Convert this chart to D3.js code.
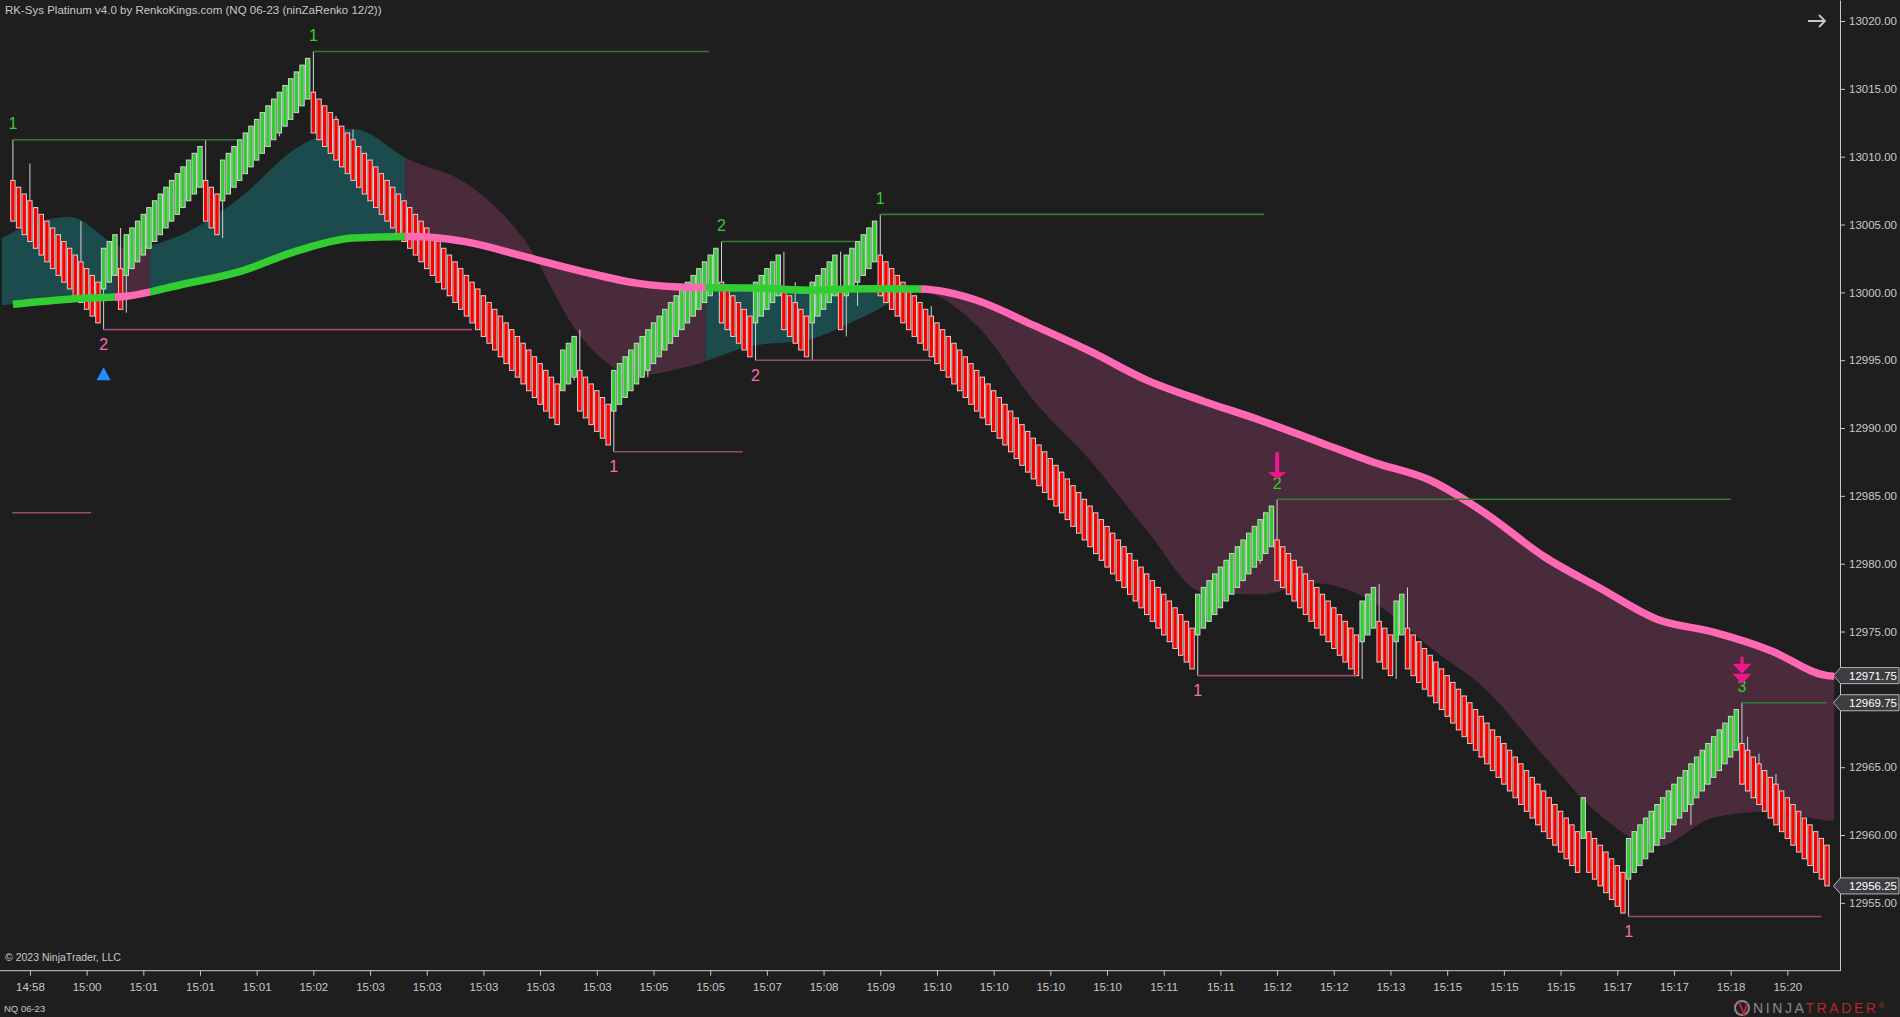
<!DOCTYPE html>
<html><head><meta charset="utf-8">
<script src="https://cdn.jsdelivr.net/npm/d3@7"></script>
<style>
html,body{margin:0;padding:0;background:#1e1e1e;overflow:hidden;}
svg{display:block;}
text{font-family:"Liberation Sans",Arial,sans-serif;}
</style></head><body>
<svg id="c" width="1900" height="1017"></svg>
<script>
// ---------------- DATA ----------------
const titleText = "RK-Sys Platinum v4.0 by RenkoKings.com (NQ 06-23 (ninZaRenko 12/2))";
const brickSize = 3; // ninZaRenko body height in points

// Renko bar closes, bar index 0..320
const closes = [
13005.25,13004.75,13004.25,13003.75,13003.25,13002.75,13002.25,13001.75,13001.25,13000.75,13000.25,12999.75,12999.25,12998.75,12998.25,12997.75,
13003.25,13003.75,13004.25,12998.75,
13004.25,13004.75,13005.25,13005.75,13006.25,13006.75,13007.25,13007.75,13008.25,13008.75,13009.25,13009.75,13010.25,13010.75,
13005.25,13004.75,13004.25,
13009.75,13010.25,13010.75,13011.25,13011.75,13012.25,13012.75,13013.25,13013.75,13014.25,13014.75,13015.25,13015.75,13016.25,13016.75,13017.25,
13011.75,13011.25,13010.75,13010.25,13009.75,13009.25,13008.75,13008.25,13007.75,13007.25,13006.75,13006.25,13005.75,13005.25,13004.75,13004.25,13003.75,13003.25,13002.75,13002.25,13001.75,13001.25,13000.75,13000.25,12999.75,12999.25,12998.75,12998.25,12997.75,12997.25,12996.75,12996.25,12995.75,12995.25,12994.75,12994.25,12993.75,12993.25,12992.75,12992.25,12991.75,12991.25,12990.75,12990.25,
12995.75,12996.25,12996.75,
12991.25,12990.75,12990.25,12989.75,12989.25,12988.75,
12994.25,12994.75,12995.25,12995.75,12996.25,12996.75,12997.25,12997.75,12998.25,12998.75,12999.25,12999.75,13000.25,13000.75,13001.25,13001.75,13002.25,13002.75,13003.25,
12997.75,12997.25,12996.75,12996.25,12995.75,12995.25,
13000.75,13001.25,13001.75,13002.25,13002.75,
12997.25,12996.75,12996.25,12995.75,12995.25,
13000.75,13001.25,13001.75,13002.25,13002.75,
12997.25,
13002.75,13003.25,13003.75,13004.25,13004.75,13005.25,
12999.75,12999.25,12998.75,12998.25,12997.75,12997.25,12996.75,12996.25,12995.75,12995.25,12994.75,12994.25,12993.75,12993.25,12992.75,12992.25,12991.75,12991.25,12990.75,12990.25,12989.75,12989.25,12988.75,12988.25,12987.75,12987.25,12986.75,12986.25,12985.75,12985.25,12984.75,12984.25,12983.75,12983.25,12982.75,12982.25,12981.75,12981.25,12980.75,12980.25,12979.75,12979.25,12978.75,12978.25,12977.75,12977.25,12976.75,12976.25,12975.75,12975.25,12974.75,12974.25,12973.75,12973.25,12972.75,12972.25,
12977.75,12978.25,12978.75,12979.25,12979.75,12980.25,12980.75,12981.25,12981.75,12982.25,12982.75,12983.25,12983.75,12984.25,
12978.75,12978.25,12977.75,12977.25,12976.75,12976.25,12975.75,12975.25,12974.75,12974.25,12973.75,12973.25,12972.75,12972.25,12971.75,
12977.25,12977.75,12978.25,
12972.75,12972.25,12971.75,
12977.25,12977.75,
12972.25,12971.75,12971.25,12970.75,12970.25,12969.75,12969.25,12968.75,12968.25,12967.75,12967.25,12966.75,12966.25,12965.75,12965.25,12964.75,12964.25,12963.75,12963.25,12962.75,12962.25,12961.75,12961.25,12960.75,12960.25,12959.75,12959.25,12958.75,12958.25,12957.75,12957.25,
12962.75,
12957.25,12956.75,12956.25,12955.75,12955.25,12954.75,12954.25,
12959.75,12960.25,12960.75,12961.25,12961.75,12962.25,12962.75,12963.25,12963.75,12964.25,12964.75,12965.25,12965.75,12966.25,12966.75,12967.25,12967.75,12968.25,12968.75,12969.25,
12963.75,12963.25,12962.75,12962.25,12961.75,12961.25,12960.75,12960.25,12959.75,12959.25,12958.75,12958.25,12957.75,12957.25,12956.75,12956.25
];

// wicks beyond the body
const highWickIdx = [0,3,12,19,34,53,57,60,100,125,136,138,146,153,162,223,241,246,305,306,308,311];
const highWickVal = [13011.25,13009.5,13005.25,13004.75,13011.25,13017.75,13013.0,13012.0,12997.25,13003.75,13003.0,13000.75,13003.0,13005.75,12999.0,12984.75,12978.5,12978.25,12969.75,12967.25,12966.0,12964.5];
const lowWickIdx = [16,20,37,47,99,106,112,131,141,147,149,209,220,238,244,285,296];
const lowWickVal = [12997.25,12998.5,13004.0,13011.5,12993.5,12988.25,12993.75,12995.0,12995.0,12996.75,12999.0,12971.75,12980.0,12971.5,12971.5,12954.0,12960.75];

// trend MA (thick line) and fast band edge, read at these bar positions
const sampleIdx = [-2,0,10,20,30,40,50,60,70,80,90,100,110,120,130,140,150,160,170,180,190,200,210,220,230,240,250,260,270,280,290,300,310,320,321.3];
const emaVals = [12999.05,12999.13,12999.50,12999.72,13000.60,13001.53,13003.04,13004.00,13004.11,13003.72,13002.67,13001.59,13000.68,13000.36,13000.33,13000.16,13000.26,13000.24,12999.42,12997.58,12995.66,12993.53,12991.98,12990.58,12989.03,12987.48,12986.15,12983.64,12980.55,12978.19,12975.91,12974.95,12973.61,12971.75,12971.70];
const fastVals = [13004.00,13004.44,13005.55,13003.26,13004.29,13006.95,13010.63,13012.04,13009.75,13008.03,13004.00,12996.84,12993.89,12994.63,12996.03,12996.48,12998.19,13000.01,12997.58,12992.05,12987.63,12982.46,12977.89,12977.74,12978.55,12977.15,12973.83,12970.66,12965.87,12961.45,12959.16,12961.30,12961.74,12961.08,12961.05];

// trend state segments (bar index ranges)
const trendSegStart = [-2, 18, 24.2, 69.2, 122.2, 160.2];
const trendSegEnd   = [18, 24.2, 69.2, 122.2, 160.2, 321.3];
const trendSegBull  = [true, false, true, false, true, false];

// swing high / low lines with counts
const pivotHiStart = [0, 53, 125, 153, 223, 305];
const pivotHiEnd   = [39.5, 122.8, 148.6, 220.7, 303, 320];
const pivotHiPrice = [13011.25, 13017.75, 13003.75, 13005.75, 12984.75, 12969.75];
const pivotHiLabel = ['1','1','2','1','2','3'];
const pivotLoStart = [16, 106, 131, 209, 285];
const pivotLoEnd   = [81, 128.7, 162, 237, 319];
const pivotLoPrice = [12997.25, 12988.25, 12995.0, 12971.75, 12954.0];
const pivotLoLabel = ['2','1','2','1','1'];

// extra short line at left
const sideLinePrice = 12983.75, sideLineStart = -0.1, sideLineEnd = 13.8;

// signals
const sellSignalIdx = [223, 305];
const sellSignalPrice = [12984.75, 12969.75];
const sellSignalArrows = [1, 2];
const buySignalIdx = [16];
const buySignalPrice = [12997.25];

// axes
const tickIdx = [3,13,23,33,43,53,63,73,83,93,103,113,123,133,143,153,163,173,183,193,203,213,223,233,243,253,263,273,283,293,303,313];
const tickLabels = ["14:58","15:00","15:01","15:01","15:01","15:02","15:03","15:03","15:03","15:03","15:03","15:05","15:05","15:07","15:08","15:09","15:10","15:10","15:10","15:10","15:11","15:11","15:12","15:12","15:13","15:15","15:15","15:15","15:17","15:17","15:18","15:20"];
const yTicks = [12955,12960,12965,12970,12975,12980,12985,12990,12995,13000,13005,13010,13015,13020];
const priceTags = [12971.75, 12969.75, 12956.25];

// ---------------- DRAW ----------------
const W = 1900, H = 1017;
const plotRight = 1840, plotBottom = 970.7;
const svg = d3.select('#c');
const x = d3.scaleLinear().domain([0, 320]).range([12.9, 1827.0]);
const y = d3.scaleLinear().domain([12950, 13021.55]).range([plotBottom, 0]);

const C = {
  bg:'#1e1e1e', teal:'#1b4b4d', maroon:'#4a2b3b', up:'#32cd32', dn:'#ff0000',
  outline:'#d2d2d2', emaUp:'#32cd32', emaDn:'#ff69b4', hiLine:'#2f7d2f', loLine:'#9a4a74',
  hiText:'#32cd32', loText:'#ff69b4', axis:'#c8c8c8', signal:'#f0168c', buy:'#1e90ff'
};

svg.append('rect').attr('width',W).attr('height',H).attr('fill',C.bg);
const defs = svg.append('defs');
defs.append('clipPath').attr('id','plot').append('rect')
  .attr('x',0).attr('y',0).attr('width',plotRight).attr('height',plotBottom);
trendSegStart.forEach((s,k)=>{
  defs.append('clipPath').attr('id','seg'+k).append('rect')
    .attr('x', x(s)).attr('y',0).attr('width', x(trendSegEnd[k]) - x(s)).attr('height', plotBottom);
});

const samples = sampleIdx.map((d,i)=>({i:d, ema:emaVals[i], fast:fastVals[i]}));
const g = svg.append('g').attr('clip-path','url(#plot)');

// cloud
const area = d3.area().x(d=>x(d.i)).y0(d=>y(d.ema)).y1(d=>y(d.fast)).curve(d3.curveMonotoneX);
trendSegStart.forEach((s,k)=>{
  g.append('g').attr('clip-path',`url(#seg${k})`)
    .append('path').datum(samples).attr('d', area)
    .attr('fill', trendSegBull[k] ? C.teal : C.maroon);
});

// bars
const bars = closes.map((c,i)=>{
  const up = i > 0 ? c > closes[i-1] : closes[1] > c;
  return {i, c, up, top: up ? c : c + brickSize, bot: up ? c - brickSize : c};
});
const gw = g.append('g');
highWickIdx.forEach((bi,k)=>{
  const b = bars[bi];
  gw.append('line').attr('x1',x(bi)).attr('x2',x(bi)).attr('y1',y(b.top)).attr('y2',y(highWickVal[k]))
    .attr('stroke',C.outline).attr('stroke-width',1);
});
lowWickIdx.forEach((bi,k)=>{
  const b = bars[bi];
  gw.append('line').attr('x1',x(bi)).attr('x2',x(bi)).attr('y1',y(b.bot)).attr('y2',y(lowWickVal[k]))
    .attr('stroke',C.outline).attr('stroke-width',1);
});
g.append('g').selectAll('rect').data(bars).join('rect')
  .attr('x', d=>x(d.i)-2.2).attr('width',4.4)
  .attr('y', d=>y(d.top)).attr('height', d=>y(d.bot)-y(d.top))
  .attr('fill', d=>d.up ? C.up : C.dn)
  .attr('stroke', C.outline).attr('stroke-width',1);

// trend MA line
const emaLine = d3.line().x(d=>x(d.i)).y(d=>y(d.ema)).curve(d3.curveMonotoneX);
const emaSamples = samples.filter(d=>d.i >= 0);
trendSegStart.forEach((s,k)=>{
  g.append('g').attr('clip-path',`url(#seg${k})`)
    .append('path').datum(emaSamples).attr('d', emaLine)
    .attr('fill','none').attr('stroke', trendSegBull[k] ? C.emaUp : C.emaDn).attr('stroke-width',7.5);
});

// swing lines
pivotHiStart.forEach((s,k)=>{
  g.append('line').attr('x1',x(s)).attr('x2',x(pivotHiEnd[k]))
    .attr('y1',y(pivotHiPrice[k])).attr('y2',y(pivotHiPrice[k]))
    .attr('stroke',C.hiLine).attr('stroke-width',1.6);
  svg.append('text').attr('x',x(s)).attr('y',y(pivotHiPrice[k])-16).attr('dy','0.35em')
    .attr('text-anchor','middle').attr('font-size',16).attr('fill',C.hiText).text(pivotHiLabel[k]);
});
pivotLoStart.forEach((s,k)=>{
  g.append('line').attr('x1',x(s)).attr('x2',x(pivotLoEnd[k]))
    .attr('y1',y(pivotLoPrice[k])).attr('y2',y(pivotLoPrice[k]))
    .attr('stroke',C.loLine).attr('stroke-width',1.6);
  svg.append('text').attr('x',x(s)).attr('y',y(pivotLoPrice[k])+15).attr('dy','0.35em')
    .attr('text-anchor','middle').attr('font-size',16).attr('fill',C.loText).text(pivotLoLabel[k]);
});
g.append('line').attr('x1',x(sideLineStart)).attr('x2',x(sideLineEnd))
  .attr('y1',y(sideLinePrice)).attr('y2',y(sideLinePrice))
  .attr('stroke',C.loLine).attr('stroke-width',1.6);

// sell arrows
sellSignalIdx.forEach((bi,k)=>{
  const cx = x(bi), yl = y(sellSignalPrice[k]);
  const n = sellSignalArrows[k];
  if (n === 1) {
    svg.append('rect').attr('x',cx-2).attr('y',yl-47).attr('width',4).attr('height',21).attr('fill',C.signal);
    svg.append('path').attr('d',`M${cx-9.5},${yl-27}L${cx+9.5},${yl-27}L${cx},${yl-20}Z`).attr('fill',C.signal);
  } else {
    svg.append('rect').attr('x',cx-1.5).attr('y',yl-46).attr('width',3).attr('height',8).attr('fill',C.signal);
    svg.append('path').attr('d',`M${cx-9.5},${yl-39}L${cx+9.5},${yl-39}L${cx},${yl-29}Z`).attr('fill',C.signal);
    svg.append('path').attr('d',`M${cx-9.5},${yl-29}L${cx+9.5},${yl-29}L${cx},${yl-19}Z`).attr('fill',C.signal);
  }
});
// buy triangle
buySignalIdx.forEach((bi,k)=>{
  const cx = x(bi), yl = y(buySignalPrice[k]);
  svg.append('path').attr('d',`M${cx},${yl+37.5}L${cx+7},${yl+50.5}L${cx-7},${yl+50.5}Z`).attr('fill',C.buy);
});

// axes
const yAxis = d3.axisRight(y).tickValues(yTicks).tickSize(5).tickSizeOuter(0).tickPadding(4).tickFormat(d=>d.toFixed(2));
const ya = svg.append('g').attr('transform',`translate(${plotRight},0)`).call(yAxis);
ya.select('.domain').attr('stroke',C.axis);
ya.selectAll('line').attr('stroke',C.axis);
ya.selectAll('text').attr('fill',C.axis).attr('font-size',11.5).attr('font-family','"Liberation Sans",Arial,sans-serif');

svg.append('line').attr('x1',0).attr('x2',plotRight).attr('y1',plotBottom).attr('y2',plotBottom).attr('stroke',C.axis).attr('stroke-width',1);
const xAxis = d3.axisBottom(x).tickValues(tickIdx).tickSize(5).tickSizeOuter(0).tickPadding(7).tickFormat((d,i)=>tickLabels[i]);
const xa = svg.append('g').attr('transform',`translate(0,${plotBottom})`).call(xAxis);
xa.select('.domain').remove();
xa.selectAll('line').attr('stroke',C.axis);
xa.selectAll('text').attr('fill',C.axis).attr('font-size',11.5).attr('font-family','"Liberation Sans",Arial,sans-serif');

// price tags
priceTags.forEach(p=>{
  const yc = y(p);
  svg.append('path').attr('d',`M1833.5,${yc}L1840.5,${yc-8}L1899,${yc-8}L1899,${yc+8}L1840.5,${yc+8}Z`)
    .attr('fill','#3c3c41').attr('stroke','#b4b4b4').attr('stroke-width',1);
  svg.append('text').attr('x',1849).attr('y',yc).attr('dy','0.35em').attr('font-size',11.5)
    .attr('fill','#ffffff').text(p.toFixed(2));
});

// texts
svg.append('text').attr('x',5).attr('y',14).attr('font-size',11.5).attr('fill',C.axis).text(titleText);
svg.append('text').attr('x',5).attr('y',961).attr('font-size',10.5).attr('fill',C.axis).text('\u00A9 2023 NinjaTrader, LLC');
svg.append('text').attr('x',4).attr('y',1012).attr('font-size',9.5).attr('fill',C.axis).text('NQ 06-23');

// top-right arrow
svg.append('path').attr('d','M1808,21L1825,21M1819,15L1825,21L1819,27').attr('fill','none')
  .attr('stroke','#c8c8c8').attr('stroke-width',1.8);

// NinjaTrader logo
svg.append('circle').attr('cx',1742).attr('cy',1008).attr('r',7).attr('fill','none').attr('stroke','#8a8a8a').attr('stroke-width',2);
svg.append('path').attr('d','M1739,1002L1744,1014L1747,1003').attr('fill','none').attr('stroke','#b5262c').attr('stroke-width',2);
const logo = svg.append('text').attr('x',1753).attr('y',1013).attr('font-size',14).attr('letter-spacing',2.6);
logo.append('tspan').attr('fill','#8a8a8a').text('NINJA');
logo.append('tspan').attr('fill','#b5262c').text('TRADER');
logo.append('tspan').attr('fill','#b5262c').attr('font-size',8).attr('dy',-5).text('\u00AE');
</script>
</body></html>
